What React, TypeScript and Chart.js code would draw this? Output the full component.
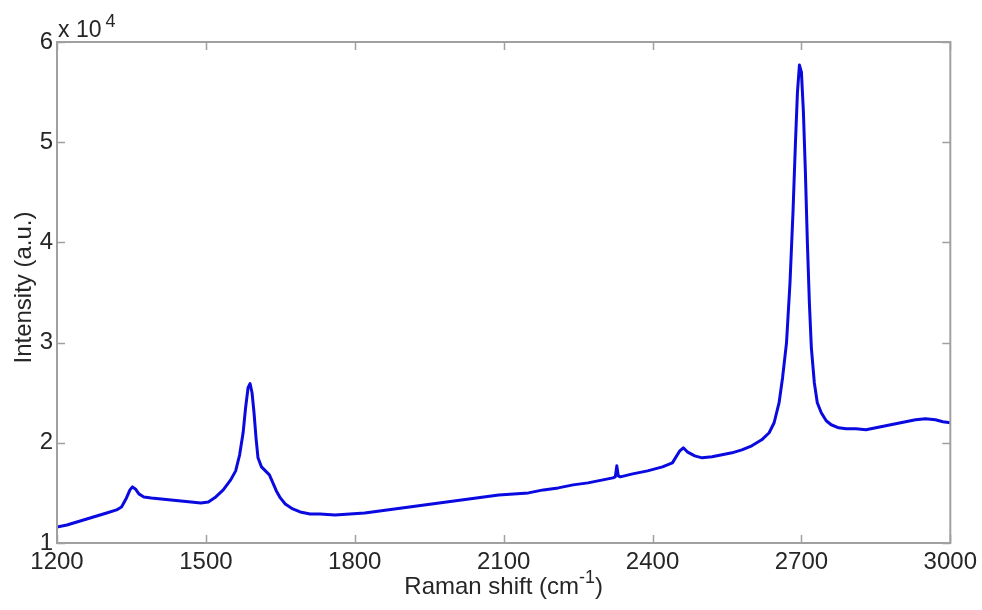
import React, { useEffect, useRef } from "react";
import { Chart, registerables } from "chart.js";

Chart.register(...registerables);

// Raman shift (cm^-1)
const ramanShift = [
  1200, 1220, 1240, 1260, 1280, 1300, 1320, 1330, 1340, 1347, 1352, 1358, 1365, 1375, 1390,
  1410, 1430, 1450, 1470, 1490, 1505, 1520, 1535, 1550, 1560, 1568, 1575, 1580, 1585, 1589,
  1593, 1597, 1601, 1605, 1612, 1620, 1628, 1635, 1642, 1650, 1660, 1675, 1690, 1710, 1730,
  1760, 1790, 1820, 1850, 1880, 1910, 1940, 1970, 2000, 2030, 2060, 2090, 2120, 2150, 2180,
  2210, 2240, 2270, 2300, 2320, 2325, 2328, 2331, 2335, 2360, 2390, 2420, 2440, 2455, 2462,
  2470, 2485, 2500, 2520, 2540, 2560, 2580, 2600, 2620, 2635, 2645, 2655, 2662, 2670, 2677,
  2683, 2688, 2692, 2696, 2700, 2704, 2708, 2712, 2716, 2720, 2726, 2732, 2740, 2750, 2760,
  2775, 2790, 2810, 2830, 2850, 2870, 2890, 2910, 2930, 2950, 2970, 2985, 3000,
];

// Intensity (a.u.)
const intensity = [
  11600, 11800, 12100, 12400, 12700, 13000, 13300, 13600, 14500, 15300, 15600, 15400, 14900, 14600, 14500,
  14400, 14300, 14200, 14100, 14000, 14100, 14600, 15300, 16300, 17200, 18800, 21000, 23500, 25500, 25900,
  25000, 23000, 20500, 18500, 17600, 17200, 16800, 16000, 15200, 14500, 13900, 13400, 13100, 12900, 12900,
  12800, 12900, 13000, 13200, 13400, 13600, 13800, 14000, 14200, 14400, 14600, 14800, 14900, 15000, 15300,
  15500, 15800, 16000, 16300, 16500, 16600, 17700, 16700, 16600, 16900, 17200, 17600, 18000, 19200, 19500,
  19100, 18700, 18500, 18600, 18800, 19000, 19300, 19700, 20300, 21000, 22000, 24000, 26500, 30000, 36000,
  43000, 50000, 55000, 57700, 57000, 53000, 47000, 40000, 34000, 29500, 26000, 24000, 23000, 22200, 21800,
  21500, 21400, 21400, 21300, 21500, 21700, 21900, 22100, 22300, 22400, 22300, 22100, 22000,
];

const xTickStep = 300;
const yTickStep = 10000;
const xMin = 1200;
const xMax = 3000;
const yMin = 10000;
const yMax = 60000;

const FONT = "'Liberation Sans', Arial, Helvetica, sans-serif";
const TEXT = "#262626";

const boxPlugin = {
  id: "matlabBox",
  afterDraw(chart: any) {
    const { ctx, chartArea } = chart;
    const { left, right, top, bottom } = chartArea;
    const xs = chart.scales.x;
    const ys = chart.scales.y;
    ctx.save();
    ctx.strokeStyle = "#a0a0a0";
    ctx.lineWidth = 2;
    ctx.strokeRect(left, top, right - left, bottom - top);
    ctx.lineWidth = 1.5;
    ctx.beginPath();
    const tl = 8;
    xs.ticks.forEach((t: any) => {
      const px = Math.round(xs.getPixelForValue(t.value)) + 0.5;
      ctx.moveTo(px, bottom);
      ctx.lineTo(px, bottom - tl);
      ctx.moveTo(px, top);
      ctx.lineTo(px, top + tl);
    });
    ys.ticks.forEach((t: any) => {
      const py = Math.round(ys.getPixelForValue(t.value)) + 0.5;
      ctx.moveTo(left, py);
      ctx.lineTo(left + tl, py);
      ctx.moveTo(right, py);
      ctx.lineTo(right - tl, py);
    });
    ctx.stroke();

    // exponent label
    ctx.fillStyle = TEXT;
    ctx.textBaseline = "alphabetic";
    ctx.textAlign = "left";
    ctx.font = `23px ${FONT}`;
    ctx.fillText("x 10", left + 1, top - 5);
    const w = ctx.measureText("x 10").width;
    ctx.font = `18px ${FONT}`;
    ctx.fillText("4", left + 1 + w + 4, top - 15);

    // x-axis title with superscript
    const base = `24px ${FONT}`;
    const sup = `18px ${FONT}`;
    ctx.font = base;
    const p1 = "Raman shift (cm";
    const p3 = ")";
    const w1 = ctx.measureText(p1).width;
    const w3 = ctx.measureText(p3).width;
    ctx.font = sup;
    const p2 = "-1";
    const w2 = ctx.measureText(p2).width;
    const cx = (left + right) / 2;
    let x0 = cx - (w1 + w2 + w3) / 2;
    const by = 594;
    ctx.font = base;
    ctx.fillText(p1, x0, by);
    x0 += w1;
    ctx.font = sup;
    ctx.fillText(p2, x0, by - 11);
    x0 += w2;
    ctx.font = base;
    ctx.fillText(p3, x0, by);

    // y-axis title
    ctx.save();
    ctx.translate(31, (top + bottom) / 2 - 5);
    ctx.rotate(-Math.PI / 2);
    ctx.textAlign = "center";
    ctx.font = base;
    ctx.fillText("Intensity (a.u.)", 0, 0);
    ctx.restore();
    ctx.restore();
  },
};

export default function App() {
  const ref = useRef<HTMLCanvasElement | null>(null);

  useEffect(() => {
    document.body.style.margin = "0";
    const canvas = ref.current;
    if (!canvas) return;
    const data = ramanShift.map((x, i) => ({ x, y: intensity[i] }));
    const chart = new Chart(canvas, {
      type: "line",
      data: {
        datasets: [
          {
            data,
            borderColor: "#0a0ae0",
            borderWidth: 3,
            pointRadius: 0,
            tension: 0,
            fill: false,
            borderJoinStyle: "round",
          },
        ],
      },
      options: {
        responsive: false,
        animation: false,
        devicePixelRatio: 1,
        layout: { padding: { top: 42, right: 31, left: 0, bottom: 0 } },
        plugins: { legend: { display: false }, tooltip: { enabled: false }, title: { display: false } },
        scales: {
          x: {
            type: "linear",
            min: xMin,
            max: xMax,
            grid: { display: false, drawTicks: false },
            border: { display: false },
            ticks: {
              stepSize: xTickStep,
              color: TEXT,
              font: { size: 24, family: FONT },
              padding: 5,
              maxRotation: 0,
              autoSkip: false,
              callback: (v: any) => String(v),
            },
            afterFit: (s: any) => {
              s.height = 67;
            },
          },
          y: {
            type: "linear",
            min: yMin,
            max: yMax,
            grid: { display: false, drawTicks: false },
            border: { display: false },
            ticks: {
              stepSize: yTickStep,
              color: TEXT,
              font: { size: 24, family: FONT },
              padding: 4,
              callback: (v: any) => String(Number(v) / 10000),
            },
            afterFit: (s: any) => {
              s.width = 57;
            },
          },
        },
      },
      plugins: [boxPlugin],
    });
    return () => chart.destroy();
  }, []);

  return (
    <div style={{ position: "fixed", left: 0, top: 0, width: 982, height: 610, background: "#fff" }}>
      <canvas ref={ref} width={982} height={610} style={{ width: 982, height: 610, display: "block" }} />
    </div>
  );
}
